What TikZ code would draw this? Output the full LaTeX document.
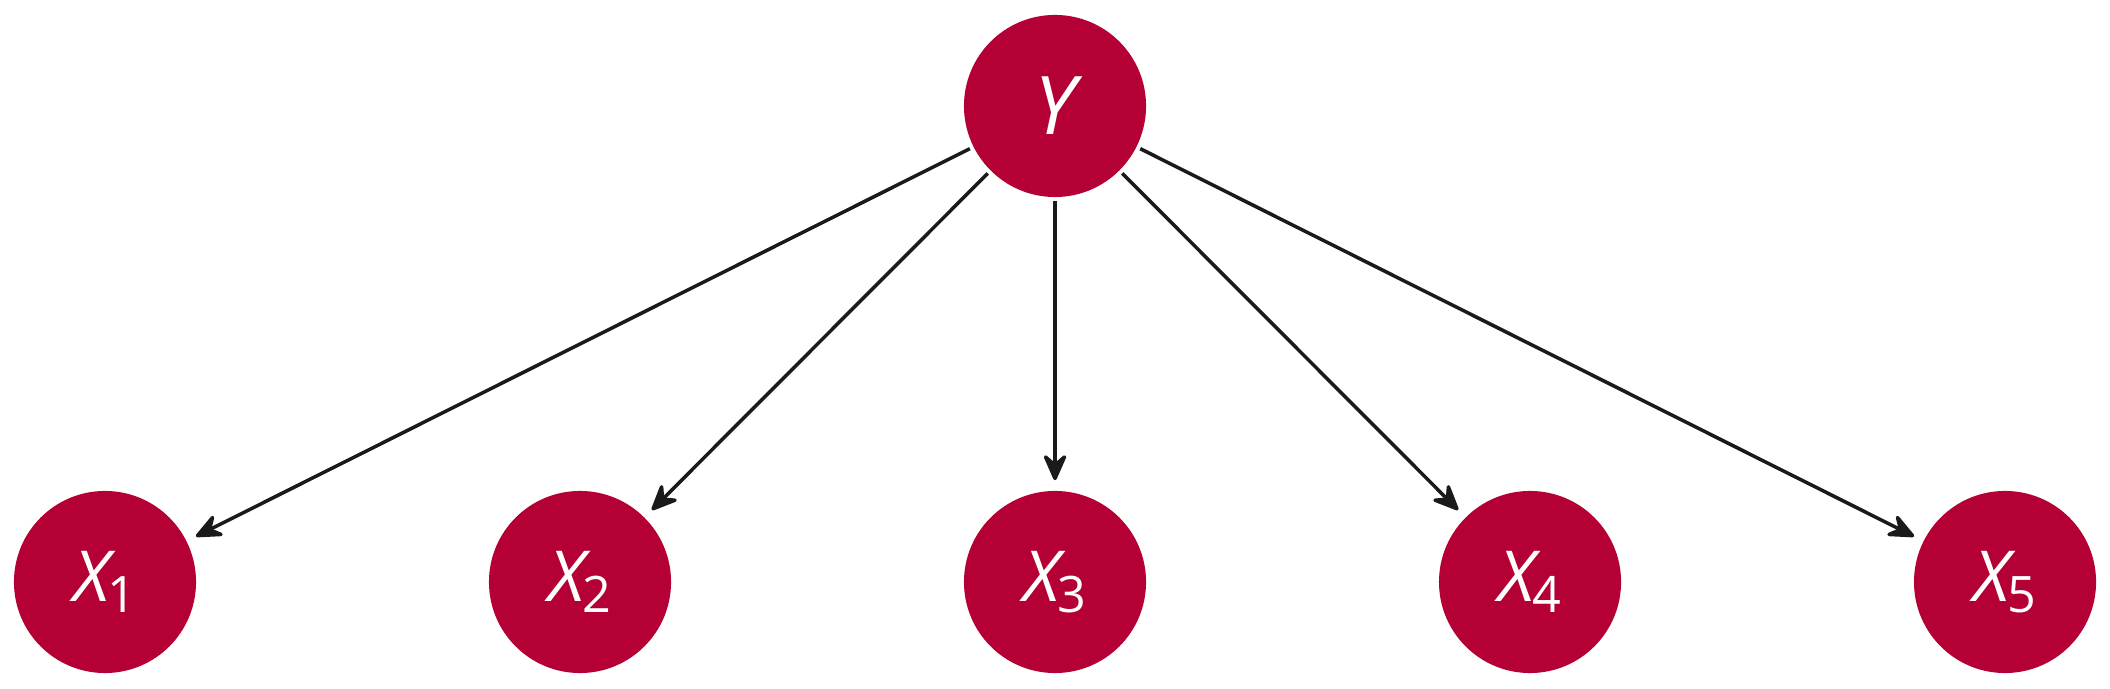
\documentclass[tikz,border=0pt]{standalone}
\usepackage{fontspec}
\setmainfont{Open Sans}
\usetikzlibrary{arrows.meta}
\definecolor{nodered}{RGB}{180,0,52}
\definecolor{edgeblack}{RGB}{26,26,26}
\newcommand{\xlbl}[1]{{\fontsize{20pt}{20pt}\selectfont\itshape X}\kern-0.8pt\raisebox{-0.11cm}{\fontsize{14.3pt}{14.3pt}\selectfont #1}}
\begin{document}
\begin{tikzpicture}[x=0.01cm,y=-0.01cm,
  var/.style={circle,fill=nodered,draw=none,minimum size=1.82cm,inner sep=0pt,text=white},
  edge/.style={draw=edgeblack,line width=0.035cm,shorten <=0.035cm,shorten >=0.10cm,
    -{Stealth[length=0.32cm,width=0.28cm,inset=0.12cm,round]}}]
\useasboundingbox (0,0) rectangle (2110,689);
\node[var] (Y) at (1055,106) {\fontsize{23pt}{23pt}\selectfont\itshape Y};
\node[var] (X1) at (105,582) {\xlbl{1}};
\node[var] (X2) at (580,582) {\xlbl{2}};
\node[var] (X3) at (1055,582) {\xlbl{3}};
\node[var] (X4) at (1530,582) {\xlbl{4}};
\node[var] (X5) at (2005,582) {\xlbl{5}};
\foreach \t in {X1,X2,X3,X4,X5}{
  \draw[edge] (Y) -- (\t);
}
\end{tikzpicture}
\end{document}
